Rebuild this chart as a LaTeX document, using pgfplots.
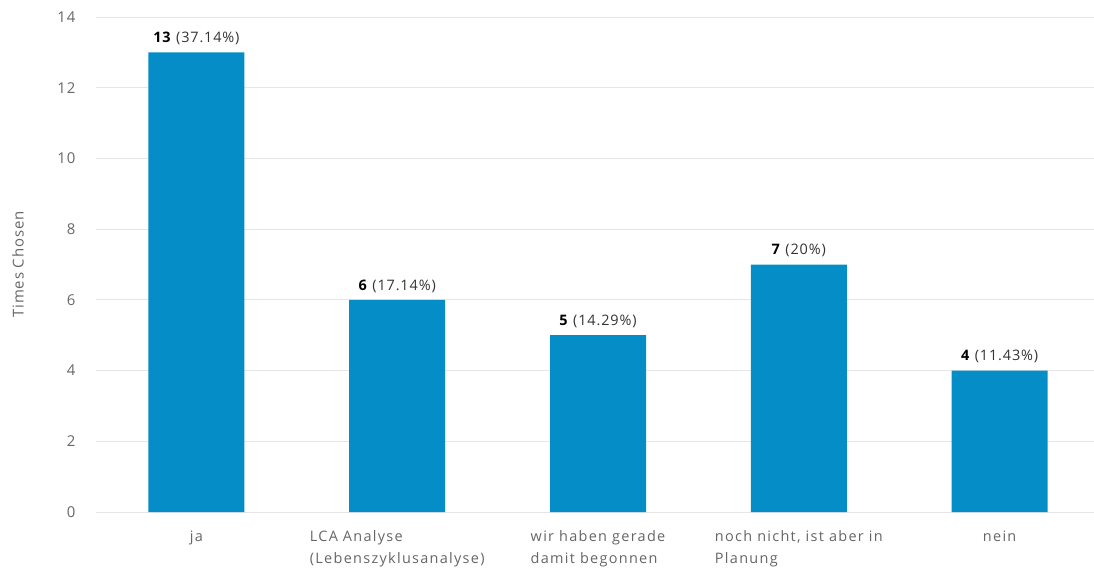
\documentclass[border=0pt]{standalone}
\usepackage{fontspec}
\setmainfont{Open Sans}
\newfontfamily\lsA[LetterSpace=6]{Open Sans}
\newfontfamily\lsB[LetterSpace=9]{Open Sans}
\usepackage{pgfplots}
\pgfplotsset{compat=1.18}
\definecolor{barblue}{HTML}{058DC7}
\definecolor{gridgray}{HTML}{E6E6E6}
\definecolor{ticktext}{HTML}{666666}
\definecolor{valtext}{HTML}{333333}
\begin{document}
\begin{tikzpicture}
\begin{axis}[
  name=ax,
  scale only axis,
  width=998bp, height=495bp,
  xmin=-0.5, xmax=4.47,
  ymin=0, ymax=14,
  ytick={0,2,...,14},
  xtick={0,1,2,3,4},
  xticklabels={ja, {LCA Analyse\\(Lebenszyklusanalyse)}, {wir haben gerade\\damit begonnen}, {noch nicht, ist aber in\\Planung}, nein},
  axis line style={draw=none},
  major tick style={draw=none},
  ymajorgrids,
  grid style={gridgray, line width=0.8pt},
  /pgf/number format/assume math mode=true,
  yticklabel style={font={\lsA\fontsize{15}{17}\selectfont}, text=ticktext, xshift=-17bp},
  xticklabel style={font={\lsB\fontsize{14.5}{22}\selectfont}, text=ticktext, align=left, yshift=-11bp},
  ylabel={Times Chosen},
  every axis y label/.style={at={(axis description cs:0,0.5)}, xshift=-78bp, rotate=90, anchor=center, font={\lsA\fontsize{15}{17}\selectfont}, text=ticktext},
  ybar, bar width=96bp,
  point meta=explicit symbolic,
  nodes near coords={\pgfplotspointmeta},
  nodes near coords style={font={\lsA\fontsize{14.5}{16}\selectfont}, text=black, anchor=south, yshift=4bp},
  clip=false,
]
\addplot[fill=barblue, draw=none] coordinates {
  (0,13) [\textbf{13} \textcolor{valtext}{(37.14\%)}]
  (1,6) [\textbf{6} \textcolor{valtext}{(17.14\%)}]
  (2,5) [\textbf{5} \textcolor{valtext}{(14.29\%)}]
  (3,7) [\textbf{7} \textcolor{valtext}{(20\%)}]
  (4,4) [\textbf{4} \textcolor{valtext}{(11.43\%)}]
};
\end{axis}
\pgfresetboundingbox
\path[use as bounding box] ([xshift=-96bp,yshift=-57bp]ax.south west) rectangle ([yshift=17bp]ax.north east);
\end{tikzpicture}
\end{document}
